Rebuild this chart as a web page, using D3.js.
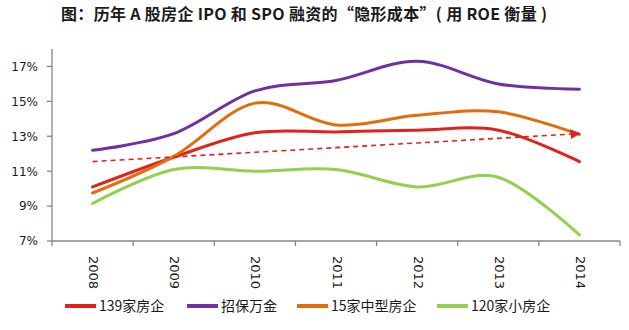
<!DOCTYPE html>
<html>
<head>
<meta charset="utf-8">
<script src="https://cdn.jsdelivr.net/npm/d3@7"></script>
<style>
  body { margin: 0; background: #fff; }
  svg { display: block; }
</style>
</head>
<body>
<div id="chart"></div>
<script>
const width = 629;
const height = 330;

// Data (ROE, %)
const years = ["2008", "2009", "2010", "2011", "2012", "2013", "2014"];
const seriesNames = ["139家房企", "招保万金", "15家中型房企", "120家小房企"];
const s139 = [10.1, 11.8, 13.2, 13.25, 13.35, 13.35, 11.55];
const sZbwj = [12.2, 13.15, 15.6, 16.2, 17.3, 16.0, 15.7];
const sMid15 = [9.75, 11.85, 14.9, 13.65, 14.2, 14.4, 13.1];
const sSmall120 = [9.15, 11.1, 11.0, 11.1, 10.1, 10.65, 7.35];
const trendYears = ["2008", "2014"];
const trendValues = [11.55, 13.15];
const yTicks = [7, 9, 11, 13, 15, 17];

const colors = ["#e2211c", "#7030a0", "#e46c0a", "#92d050"];
const allSeries = [s139, sZbwj, sMid15, sSmall120];

const svg = d3.select("#chart").append("svg").attr("width", width).attr("height", height);

// Title
svg.append("text")
  .attr("x", 61).attr("y", 20)
  .attr("font-family", "'Noto Sans CJK SC', sans-serif")
  .attr("font-size", 16).attr("font-weight", "bold").attr("fill", "#1a1a1a")
  .attr("textLength", 486).attr("lengthAdjust", "spacing")
  .text("图：历年 A 股房企 IPO 和 SPO 融资的“隐形成本”( 用 ROE 衡量 )");

const x = d3.scaleBand().domain(years).range([52, 620]).padding(0);
const y = d3.scaleLinear().domain([7, 18]).range([241, 49]);
const cx = d => x(d) + x.bandwidth() / 2;

// Axes
const axisColor = "#868686";
const xAxis = svg.append("g").attr("transform", `translate(0,${y(7)})`);
xAxis.append("line").attr("x1", 52).attr("x2", 620).attr("stroke", axisColor).attr("stroke-width", 1.3);
xAxis.selectAll("line.tick").data(years.map(d => x(d)).concat([620])).join("line")
  .attr("class", "tick").attr("x1", d => d).attr("x2", d => d).attr("y1", 0).attr("y2", 5)
  .attr("stroke", axisColor).attr("stroke-width", 1.3);
svg.append("g").selectAll("text").data(years).join("text")
  .attr("transform", d => `translate(${cx(d)},256) rotate(90)`)
  .attr("dominant-baseline", "middle")
  .attr("font-family", "'DejaVu Sans', Verdana, sans-serif").attr("font-size", 13).attr("fill", "#1a1a1a")
  .text(d => d);

const yAxis = svg.append("g");
yAxis.append("line").attr("x1", 52).attr("x2", 52).attr("y1", y(18)).attr("y2", y(7))
  .attr("stroke", axisColor).attr("stroke-width", 1.3);
yAxis.selectAll("line.tick").data(yTicks).join("line")
  .attr("class", "tick").attr("x1", 47).attr("x2", 52).attr("y1", d => y(d)).attr("y2", d => y(d))
  .attr("stroke", axisColor).attr("stroke-width", 1.3);
yAxis.selectAll("text").data(yTicks).join("text")
  .attr("x", 38).attr("y", d => y(d)).attr("dy", "0.36em").attr("text-anchor", "end")
  .attr("font-family", "'DejaVu Sans', Verdana, sans-serif").attr("font-size", 12).attr("fill", "#1a1a1a")
  .text(d => d + "%");

// Lines
const line = d3.line().x((d, i) => cx(years[i])).y(d => y(d)).curve(d3.curveCardinal.tension(0));
svg.append("g").selectAll("path").data(allSeries).join("path")
  .attr("d", line).attr("fill", "none")
  .attr("stroke", (d, i) => colors[i]).attr("stroke-width", 3).attr("stroke-linecap", "round");

// Trend arrow
svg.append("defs").append("marker")
  .attr("id", "arrow").attr("viewBox", "0 0 10 10").attr("refX", 9).attr("refY", 5)
  .attr("markerWidth", 10).attr("markerHeight", 10).attr("markerUnits", "userSpaceOnUse")
  .attr("orient", "auto")
  .append("path").attr("d", "M0,0 L10,5 L0,10 Z").attr("fill", colors[0]);
svg.append("line")
  .attr("x1", cx(trendYears[0])).attr("y1", y(trendValues[0]))
  .attr("x2", cx(trendYears[1])).attr("y2", y(trendValues[1]))
  .attr("stroke", colors[0]).attr("stroke-width", 1.6).attr("stroke-dasharray", "5,4")
  .attr("marker-end", "url(#arrow)");

// Legend
const legendX = [65, 187, 297, 437];
const legend = svg.append("g").selectAll("g").data(seriesNames).join("g")
  .attr("transform", (d, i) => `translate(${legendX[i]},306)`);
legend.append("line").attr("x1", 0).attr("x2", 31).attr("stroke", (d, i) => colors[i]).attr("stroke-width", 4);
legend.append("text").attr("x", 34).attr("dy", "0.36em")
  .attr("font-family", "'Noto Sans CJK SC', sans-serif").attr("font-size", 14).attr("fill", "#1a1a1a")
  .text(d => d);
</script>
</body>
</html>
